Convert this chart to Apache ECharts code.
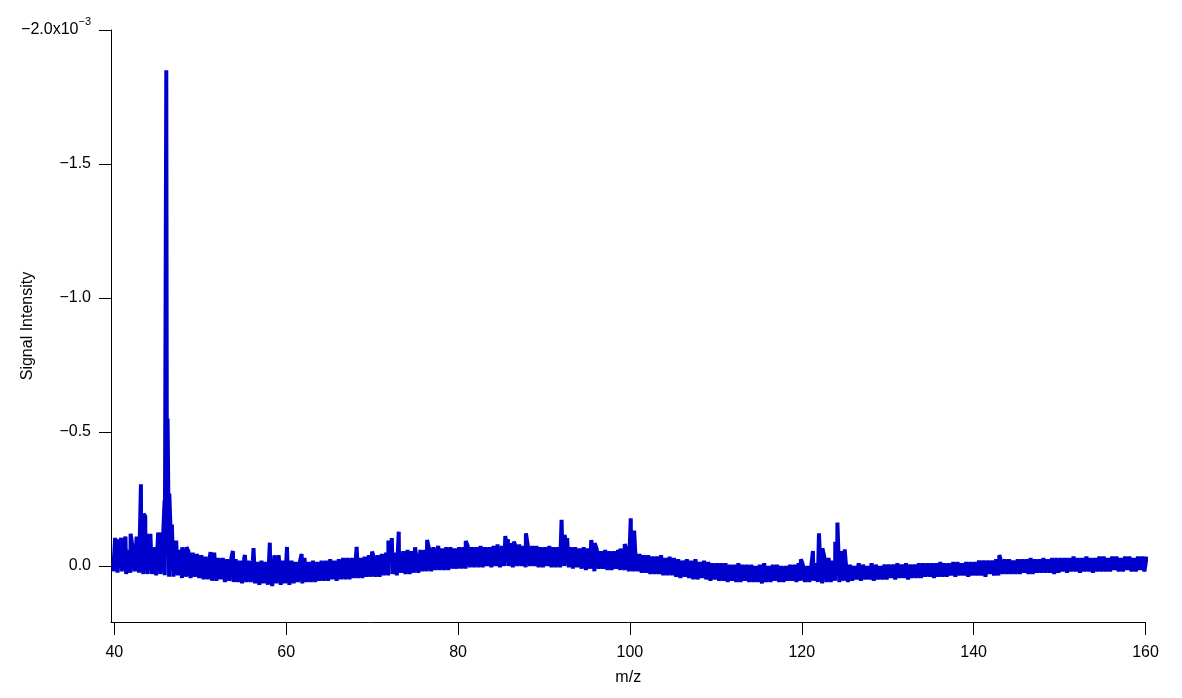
<!DOCTYPE html>
<html><head><meta charset="utf-8">
<script src="https://cdn.jsdelivr.net/npm/echarts@6/dist/echarts.min.js"></script>
<style>html,body{margin:0;padding:0;background:#fff}#c{width:1182px;height:698px}</style>
</head><body><div id="c"></div>
<script>
// m/z grid of the baseline envelope (start, step), values in units of 1e-3
const mzStart = 40, mzStep = 0.5;
// upper (more negative) edge of the noise band
const topEnv = [
-0.07,-0.06,-0.07,-0.06,-0.07,-0.065,-0.07,-0.065,-0.065,-0.07,
-0.06,-0.065,-0.07,-0.06,-0.065,-0.06,-0.07,-0.055,-0.05,-0.045,
-0.04,-0.035,-0.035,-0.05,-0.03,-0.03,-0.025,-0.03,-0.025,-0.02,
-0.03,-0.02,-0.02,-0.015,-0.02,-0.015,-0.02,-0.04,-0.04,-0.02,
-0.03,-0.02,-0.015,-0.02,-0.03,-0.015,-0.02,-0.015,-0.02,-0.02,
-0.025,-0.02,-0.025,-0.03,-0.03,-0.03,-0.035,-0.03,-0.035,-0.04,
-0.04,-0.04,-0.045,-0.05,-0.055,-0.05,-0.05,-0.055,-0.06,-0.055,
-0.065,-0.06,-0.06,-0.065,-0.07,-0.065,-0.065,-0.07,-0.07,-0.065,
-0.07,-0.07,-0.075,-0.07,-0.07,-0.075,-0.07,-0.07,-0.075,-0.075,
-0.075,-0.08,-0.085,-0.08,-0.08,-0.075,-0.075,-0.075,-0.075,-0.07,
-0.07,-0.075,-0.07,-0.07,-0.075,-0.07,-0.07,-0.07,-0.065,-0.07,
-0.065,-0.07,-0.065,-0.055,-0.06,-0.055,-0.055,-0.06,-0.06,-0.06,
-0.06,-0.05,-0.045,-0.04,-0.04,-0.035,-0.035,-0.04,-0.03,-0.035,
-0.03,-0.025,-0.02,-0.025,-0.02,-0.025,-0.015,-0.02,-0.015,-0.01,
-0.01,-0.01,-0.01,-0.005,-0.005,-0.01,-0.005,-0.005,-0.005,0,
-0.005,-0.01,0,-0.005,-0.005,0,0,-0.005,-0.005,-0.01,
-0.005,0,-0.005,-0.01,-0.03,-0.035,-0.03,-0.02,-0.03,-0.04,
-0.01,-0.005,0,-0.01,-0.005,0,-0.01,-0.005,0,-0.005,
-0.005,-0.005,-0.01,-0.005,-0.01,-0.005,-0.005,-0.01,-0.01,-0.01,
-0.01,-0.01,-0.015,-0.01,-0.01,-0.015,-0.015,-0.01,-0.015,-0.015,
-0.015,-0.02,-0.02,-0.02,-0.02,-0.025,-0.025,-0.025,-0.025,-0.02,
-0.025,-0.025,-0.025,-0.03,-0.025,-0.025,-0.03,-0.025,-0.03,-0.03,
-0.03,-0.03,-0.03,-0.035,-0.03,-0.03,-0.035,-0.03,-0.03,-0.035,
-0.035,-0.03,-0.035,-0.035,-0.03,-0.035,-0.035,-0.03,-0.035,-0.035,
-0.035
];
// lower edge of the noise band
const bottomEnv = [
0.02,0.025,0.02,0.03,0.025,0.02,0.025,0.03,0.03,0.03,
0.035,0.03,0.035,0.04,0.04,0.035,0.045,0.04,0.045,0.04,
0.045,0.05,0.05,0.055,0.055,0.05,0.06,0.055,0.06,0.06,
0.065,0.06,0.06,0.065,0.07,0.065,0.07,0.075,0.065,0.07,
0.065,0.07,0.065,0.06,0.065,0.06,0.06,0.06,0.055,0.055,
0.055,0.05,0.055,0.05,0.05,0.05,0.045,0.045,0.045,0.04,
0.04,0.04,0.04,0.035,0.035,0.03,0.035,0.025,0.03,0.03,
0.025,0.025,0.02,0.02,0.02,0.015,0.015,0.015,0.015,0.01,
0.01,0.01,0.01,0.005,0.005,0.005,0.005,0,0.005,0,
0.005,0,0,0.005,0,0,0.005,0,0,0.005,
0.005,0,0.005,0.005,0.005,0,0.005,0.01,0.005,0.01,
0.015,0.01,0.02,0.01,0.01,0.015,0.015,0.01,0.015,0.015,
0.02,0.02,0.02,0.025,0.025,0.03,0.03,0.03,0.035,0.035,
0.035,0.04,0.045,0.04,0.045,0.05,0.05,0.045,0.05,0.055,
0.05,0.055,0.055,0.06,0.055,0.06,0.06,0.055,0.06,0.06,
0.06,0.065,0.06,0.06,0.055,0.06,0.06,0.055,0.055,0.06,
0.055,0.06,0.06,0.055,0.06,0.065,0.06,0.06,0.055,0.06,
0.055,0.06,0.055,0.05,0.055,0.05,0.05,0.055,0.05,0.05,
0.05,0.045,0.05,0.045,0.045,0.05,0.045,0.045,0.045,0.04,
0.04,0.045,0.04,0.04,0.04,0.035,0.04,0.035,0.035,0.04,
0.035,0.035,0.035,0.04,0.03,0.035,0.035,0.03,0.03,0.03,
0.03,0.03,0.025,0.03,0.03,0.025,0.025,0.025,0.025,0.03,
0.025,0.02,0.025,0.02,0.02,0.025,0.02,0.02,0.025,0.02,
0.02,0.02,0.02,0.015,0.02,0.02,0.015,0.02,0.02,0.015,
0.02
];
// distinct peaks [m/z, value]
const peaks = [
[40.1,-0.105],[40.5,-0.1],[40.8,-0.105],[41.3,-0.11],[41.9,-0.12],[42.6,-0.11],
[43.1,-0.305],[43.4,-0.195],[43.6,-0.185],[44.0,-0.12],[44.2,-0.12],
[45.1,-0.125],[45.3,-0.125],[45.85,-0.245],[46.05,-1.85],[46.2,-0.55],[46.4,-0.27],[46.7,-0.155],
[47.2,-0.095],[47.9,-0.07],[48.4,-0.07],[51.2,-0.052],[53.8,-0.056],[55.2,-0.041],[56.2,-0.067],
[58.1,-0.087],[58.8,-0.04],[60.1,-0.071],[61.8,-0.045],[68.2,-0.071],[70.0,-0.054],
[71.9,-0.095],[72.3,-0.104],[73.1,-0.128],[75.0,-0.07],[76.4,-0.097],[77.7,-0.075],[80.9,-0.093],
[84.6,-0.08],[85.5,-0.112],[85.8,-0.1],[86.5,-0.091],[87.9,-0.122],[92.05,-0.172],[92.4,-0.116],[92.7,-0.104],
[95.5,-0.097],[95.9,-0.085],[98.9,-0.065],[99.4,-0.082],[100.1,-0.178],[100.5,-0.132],
[119.9,-0.025],[121.3,-0.056],[122.0,-0.122],[122.4,-0.066],[122.8,-0.035],[123.9,-0.09],[124.15,-0.162],
[124.55,-0.056],[125.0,-0.062],[126.7,-0.016],[143.0,-0.041]
];
const xTicks = [40, 60, 80, 100, 120, 140, 160];
const yTicks = [-2.0, -1.5, -1.0, -0.5, 0.0];

// build line data: band drawn as a dense zigzag between the two envelopes, peaks merged in
const pts = [];
for (let i = 0; i < topEnv.length; i++) {
  const x = mzStart + i * mzStep;
  pts.push([x - 0.125, bottomEnv[i]]);
  pts.push([x + 0.125, topEnv[i]]);
}
peaks.forEach(p => pts.push([p[0], p[1]]));
pts.sort((a, b) => a[0] - b[0]);

const FONT = 'Liberation Sans, Arial, sans-serif';
const chart = echarts.init(document.getElementById('c'), null, {renderer: 'canvas'});
chart.setOption({
  animation: false,
  backgroundColor: '#fff',
  grid: {left: 111, right: 36.5, top: 30, bottom: 76, containLabel: false, outerBoundsMode: 'none'},
  xAxis: {
    type: 'value', min: 39.616, max: 160,
    name: 'm/z', nameLocation: 'middle', nameGap: 48, nameMoveOverlap: false,
    nameTextStyle: {fontSize: 16, color: '#000', fontFamily: FONT},
    axisLine: {show: true, onZero: false, lineStyle: {color: '#000', width: 1}},
    axisTick: {show: true, inside: false, length: 13, customValues: xTicks, lineStyle: {color: '#000', width: 1}},
    axisLabel: {show: true, customValues: xTicks, margin: 23, fontSize: 16, color: '#000', fontFamily: FONT},
    splitLine: {show: false}
  },
  yAxis: {
    type: 'value', min: -2.0, max: 0.209, inverse: true,
    name: 'Signal Intensity', nameLocation: 'middle', nameGap: 75, nameRotate: 90, nameMoveOverlap: false,
    nameTextStyle: {fontSize: 16, color: '#000', fontFamily: FONT},
    axisLine: {show: true, onZero: false, lineStyle: {color: '#000', width: 1}},
    axisTick: {show: true, inside: false, length: 12, customValues: yTicks, lineStyle: {color: '#000', width: 1}},
    axisLabel: {
      show: true, customValues: yTicks, margin: 20, fontSize: 16, color: '#000', fontFamily: FONT,
      formatter: function (v) {
        if (Math.abs(v + 2) < 1e-9) return '{m|\u22122.0x10}{s|\u22123}';
        return (v < -1e-9 ? '\u2212' : '') + Math.abs(v).toFixed(1);
      },
      rich: {
        m: {fontSize: 16, fontFamily: FONT, color: '#000', lineHeight: 28, verticalAlign: 'middle'},
        s: {fontSize: 11, fontFamily: FONT, color: '#000', lineHeight: 12, verticalAlign: 'top'}
      }
    },
    splitLine: {show: false}
  },
  series: [{
    type: 'line', data: pts, showSymbol: false, symbol: 'none', sampling: null,
    clip: false, smooth: false,
    lineStyle: {color: '#0000CC', width: 4, join: 'bevel'}
  }]
});
</script>
</body></html>
